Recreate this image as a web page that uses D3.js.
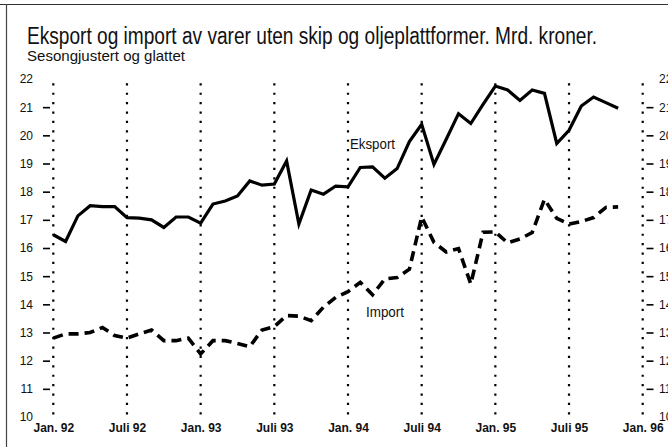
<!DOCTYPE html>
<html>
<head>
<meta charset="utf-8">
<script src="https://cdn.jsdelivr.net/npm/d3@7"></script>
<style>
  body { margin: 0; background: #fff; }
  svg { display: block; }
  text { font-family: "Liberation Sans Narrow", "Arial Narrow", "Liberation Sans", Arial, sans-serif; fill: #111; }
</style>
</head>
<body>
<div></div>
<script>
// monthly values, Jan 92 .. Nov 95 (Mrd. kroner, sesongjustert og glattet)
const eksport = [
  16.47, 16.23, 17.14, 17.50, 17.47, 17.47, 17.08, 17.06, 17.00, 16.73, 17.10, 17.10,
  16.88, 17.56, 17.67, 17.85, 18.38, 18.23, 18.27, 19.09, 16.85, 18.06, 17.91, 18.20,
  18.17, 18.86, 18.88, 18.48, 18.82, 19.78, 20.39, 18.97, 19.86, 20.77, 20.42, 21.10,
  21.75, 21.61, 21.24, 21.61, 21.49, 19.71, 20.18, 21.04, 21.36, 21.16, 20.96
];
const importVals = [
  12.80, 12.95, 12.95, 13.00, 13.18, 12.89, 12.80, 12.95, 13.09, 12.71, 12.71, 12.80,
  12.24, 12.71, 12.71, 12.61, 12.50, 13.09, 13.21, 13.60, 13.58, 13.42, 13.90, 14.25,
  14.45, 14.78, 14.34, 14.90, 14.95, 15.25, 17.10, 16.20, 15.86, 15.98, 14.72, 16.56,
  16.57, 16.18, 16.32, 16.55, 17.73, 17.05, 16.85, 16.94, 17.08, 17.44, 17.46
];
const xTickLabels = ["Jan. 92", "Juli 92", "Jan. 93", "Juli 93", "Jan. 94", "Juli 94", "Jan. 95", "Juli 95", "Jan. 96"];
const yTicks = [10, 11, 12, 13, 14, 15, 16, 17, 18, 19, 20, 21, 22];

const W = 668, H = 447;

const svg = d3.select('div').append('svg')
  .attr('width', W)
  .attr('height', H);

// frame lines top and left
svg.append('line').attr('x1', 0).attr('x2', W).attr('y1', 4.5).attr('y2', 4.5)
  .attr('stroke', '#333').attr('stroke-width', 1);
svg.append('line').attr('x1', 6.5).attr('x2', 6.5).attr('y1', 4).attr('y2', H)
  .attr('stroke', '#444').attr('stroke-width', 1.2);

// title
svg.append('text').attr('x', 27).attr('y', 43.5)
  .attr('font-size', 23).attr('textLength', 570).attr('lengthAdjust', 'spacingAndGlyphs')
  .text('Eksport og import av varer uten skip og oljeplattformer. Mrd. kroner.');
svg.append('text').attr('x', 27).attr('y', 61)
  .attr('font-size', 15.5).attr('textLength', 158).attr('lengthAdjust', 'spacingAndGlyphs')
  .text('Sesongjustert og glattet');

const x = d3.scaleLinear().domain([0, 48]).range([53.3, 642.7]);
const y = d3.scaleLinear().domain([10, 22]).range([417, 79]);

// dotted verticals every half year
const halfYears = xTickLabels.map((d, i) => i * 6);
svg.append('g').selectAll('line')
  .data(halfYears)
  .enter()
  .append('line')
  .attr('x1', d => x(d)).attr('x2', d => x(d))
  .attr('y1', y(21.85)).attr('y2', y(10) + 1)
  .attr('stroke', '#000')
  .attr('stroke-width', 2.2)
  .attr('stroke-dasharray', '2.2,7.2');

// y axes, left and right
function styleAxis(g) {
  g.select('.domain').remove();
  g.selectAll('.tick line').attr('stroke', '#000').attr('stroke-width', 1.6)
    .attr('display', d => (d === 10 || d === 22) ? 'none' : null);
  g.selectAll('.tick text').attr('font-size', 12).attr('fill', '#111')
    .style('font-family', '"Liberation Sans Narrow", "Arial Narrow", "Liberation Sans", sans-serif');
}
svg.append('g')
  .attr('transform', 'translate(50,0)')
  .call(d3.axisLeft(y).tickValues(yTicks).tickSize(7).tickPadding(10).tickFormat(d3.format('d')))
  .call(styleAxis);
svg.append('g')
  .attr('transform', 'translate(646.5,0)')
  .call(d3.axisRight(y).tickValues(yTicks).tickSize(7).tickPadding(5.5).tickFormat(d3.format('d')))
  .call(styleAxis);

// x labels
const xAxis = svg.append('g')
  .attr('transform', `translate(0,${y(10)})`)
  .call(d3.axisBottom(x).tickValues(halfYears).tickSize(0).tickPadding(6)
    .tickFormat((d, i) => xTickLabels[i]));
xAxis.select('.domain').remove();
xAxis.selectAll('.tick text')
  .attr('font-size', 12).attr('font-weight', 'bold').attr('fill', '#111')
  .style('font-family', '"Liberation Sans Narrow", "Arial Narrow", "Liberation Sans", sans-serif');

// series
const line = d3.line().x((d, i) => x(i)).y(d => y(d));

svg.append('path')
  .datum(eksport)
  .attr('d', line)
  .attr('fill', 'none')
  .attr('stroke', '#000')
  .attr('stroke-width', 3.2)
  .attr('stroke-linejoin', 'miter');

svg.append('path')
  .datum(importVals)
  .attr('d', line)
  .attr('fill', 'none')
  .attr('stroke', '#000')
  .attr('stroke-width', 3.6)
  .attr('stroke-dasharray', '10,6');

// series labels
svg.append('text').attr('x', 350).attr('y', 149)
  .attr('font-size', 15.5).attr('textLength', 45).attr('lengthAdjust', 'spacingAndGlyphs')
  .text('Eksport');
svg.append('text').attr('x', 366).attr('y', 317)
  .attr('font-size', 15.5).attr('textLength', 38).attr('lengthAdjust', 'spacingAndGlyphs')
  .text('Import');
</script>
</body>
</html>
